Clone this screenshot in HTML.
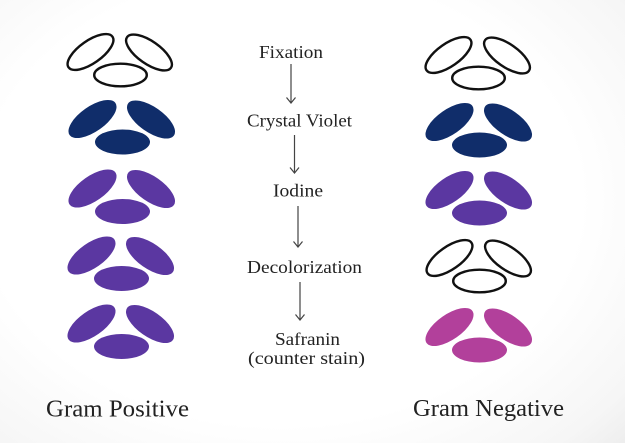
<!DOCTYPE html>
<html>
<head>
<meta charset="utf-8">
<style>
  html, body { margin: 0; padding: 0; }
  body { width: 625px; height: 443px; overflow: hidden;
    background: radial-gradient(ellipse 80% 85% at 45% 45%, #ffffff 60%, #f6f6f6 85%, #e9e9e9 100%); }
  svg { display: block; }
  text { font-family: "Liberation Serif", serif; fill: #222; }
</style>
</head>
<body>
<svg width="625" height="443" viewBox="0 0 625 443" xmlns="http://www.w3.org/2000/svg">
  <defs>
    <g id="cells">
      <ellipse cx="-29.5" cy="0" rx="28" ry="12.5" transform="rotate(-35 -29.5 0)"/>
      <ellipse cx="29" cy="0.5" rx="28" ry="12.5" transform="rotate(35 29 0.5)"/>
      <ellipse cx="0.5" cy="23" rx="27.5" ry="12.5"/>
    </g>
    <g id="cellsO">
      <ellipse cx="-29.5" cy="0" rx="26.8" ry="11.3" transform="rotate(-35 -29.5 0)"/>
      <ellipse cx="29" cy="0.5" rx="26.8" ry="11.3" transform="rotate(35 29 0.5)"/>
      <ellipse cx="0.5" cy="23" rx="26.3" ry="11.3"/>
    </g>
  </defs>

  <!-- Left: Gram Positive -->
  <use href="#cellsO" x="120" y="52" fill="#fff" stroke="#111" stroke-width="2.4"/>
  <use href="#cells" x="122" y="119" fill="#102d6a"/>
  <use href="#cells" x="122" y="188.5" fill="#5b37a1"/>
  <use href="#cells" x="121" y="255.5" fill="#5b37a1"/>
  <use href="#cells" x="121" y="323.5" fill="#5b37a1"/>

  <!-- Right: Gram Negative -->
  <use href="#cellsO" x="478" y="55" fill="#fff" stroke="#111" stroke-width="2.4"/>
  <use href="#cells" x="479" y="122" fill="#102d6a"/>
  <use href="#cells" x="479" y="190" fill="#5b37a1"/>
  <use href="#cellsO" x="479" y="258" fill="#fff" stroke="#111" stroke-width="2.4"/>
  <use href="#cells" x="479" y="327" fill="#b2409b"/>

  <!-- Steps -->
  <g font-size="18">
    <text x="259" y="58" textLength="64" lengthAdjust="spacingAndGlyphs">Fixation</text>
    <text x="247" y="126.5" textLength="105" lengthAdjust="spacingAndGlyphs">Crystal Violet</text>
    <text x="273" y="196.5" textLength="50" lengthAdjust="spacingAndGlyphs">Iodine</text>
    <text x="247" y="273" textLength="115" lengthAdjust="spacingAndGlyphs">Decolorization</text>
    <text x="275" y="345" textLength="65" lengthAdjust="spacingAndGlyphs">Safranin</text>
    <text x="248" y="364" textLength="117" lengthAdjust="spacingAndGlyphs">(counter stain)</text>
  </g>

  <!-- Arrows -->
  <g stroke="#444" stroke-width="1.2" fill="none">
    <line x1="291" y1="64" x2="291" y2="103"/>
    <polyline points="286.5,97.5 291,103 295.5,97.5"/>
    <line x1="294.5" y1="135" x2="294.5" y2="173"/>
    <polyline points="290,167.5 294.5,173 299,167.5"/>
    <line x1="298" y1="206" x2="298" y2="247"/>
    <polyline points="293.5,241.5 298,247 302.5,241.5"/>
    <line x1="300" y1="282" x2="300" y2="320"/>
    <polyline points="295.5,314.5 300,320 304.5,314.5"/>
  </g>

  <!-- Labels -->
  <text x="46" y="416.5" font-size="24" textLength="143" lengthAdjust="spacingAndGlyphs">Gram Positive</text>
  <text x="413" y="416" font-size="24" textLength="151" lengthAdjust="spacingAndGlyphs">Gram Negative</text>
</svg>
</body>
</html>
